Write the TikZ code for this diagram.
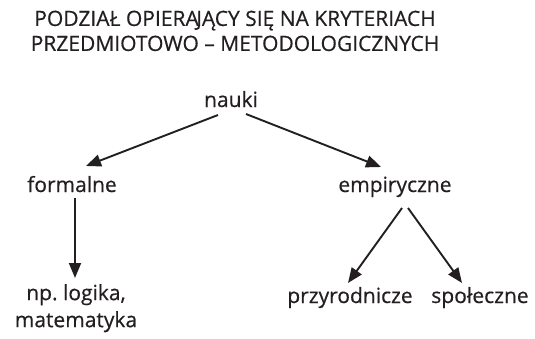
\documentclass[tikz,border=0pt]{standalone}
\usepackage{fontspec}
\setmainfont{Open Sans}[FakeBold=0.5]
\usetikzlibrary{arrows.meta}
\definecolor{ink}{HTML}{231F20}
\tikzset{
  x=1pt, y=1pt,
  txt/.style={inner sep=0pt, text=ink, font=\fontsize{21}{27}\selectfont\frenchspacing},
  lbl/.style={txt, anchor=base},
  link/.style={draw=ink, line width=1.9pt, -{Triangle[length=15pt,width=12pt]}}
}
\begin{document}
\begin{tikzpicture}
\useasboundingbox (0,0) rectangle (535,338);
% heading
\node[txt, anchor=north, align=center,
      font=\fontsize{21}{25}\selectfont\frenchspacing] (title) at (235,327.5)
  {PODZIAŁ OPIERA\kern-2.5pt JĄCY SIĘ NA KRYTERIACH\\PRZEDMIOTOWO – METODOLOGICZNYCH};
% tree labels
\node[lbl] (nauki) at (231,231) {nauki};
\node[lbl] (formalne) at (72,146) {formalne};
\node[lbl] (empiryczne) at (395,146) {empiryczne};
\node[txt, anchor=north, align=center] (przyklady) at (76,54) {np. logika,\\matematyka};
\node[lbl] (przyrodnicze) at (350,35) {przyrodnicze};
\node[lbl] (spoleczne) at (480,35) {społeczne};
% connectors
\draw[link] ([xshift=-13pt,yshift=-8pt]nauki.base) -- ([xshift=14pt,yshift=26pt]formalne.base);
\draw[link] ([xshift=15pt,yshift=-7pt]nauki.base) -- ([xshift=-14pt,yshift=25pt]empiryczne.base);
\draw[link] ([xshift=3pt,yshift=-6pt]formalne.base) -- ([xshift=-1pt,yshift=6pt]przyklady.north);
\draw[link] ([xshift=7pt,yshift=-16pt]empiryczne.base) -- ([xshift=-2pt,yshift=20pt]przyrodnicze.base);
\draw[link] ([xshift=13pt,yshift=-16pt]empiryczne.base) -- ([xshift=-18pt,yshift=20pt]spoleczne.base);
\end{tikzpicture}
\end{document}
